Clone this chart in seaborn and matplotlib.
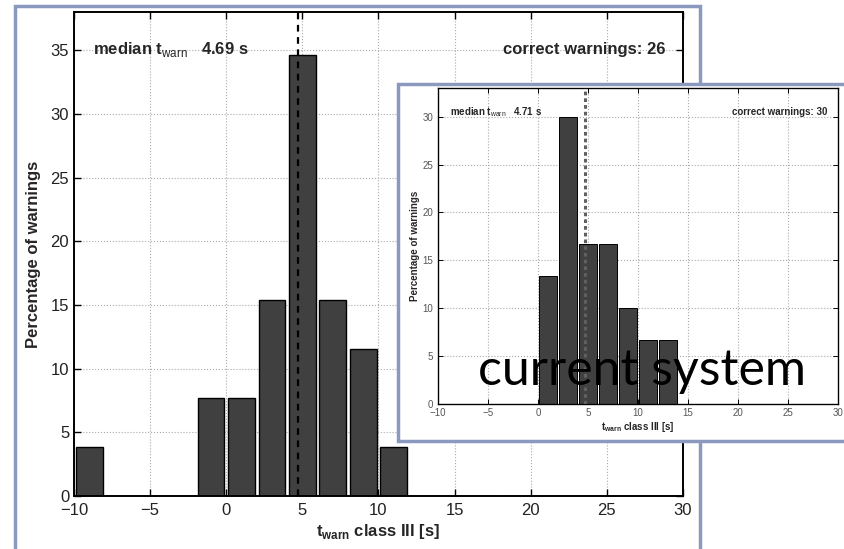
import matplotlib
matplotlib.use("Agg")
import matplotlib.pyplot as plt
import pandas as pd
import seaborn as sns
from matplotlib.patches import Rectangle

# histogram bins: 2 s wide from -10 s to 30 s; percentage per bin
bin_width = 2
bin_range = (-10, 30)

main_centers = [-9, -1, 1, 3, 5, 7, 9, 11]
main_percent = [3.85, 7.69, 7.69, 15.38, 34.62, 15.38, 11.54, 3.85]
main_median = 4.69
main_count = 26

inset_centers = [1, 3, 5, 7, 9, 11, 13]
inset_percent = [13.33, 30.0, 16.67, 16.67, 10.0, 6.67, 6.67]
inset_median = 4.71
inset_count = 30

x_ticks = [-10, -5, 0, 5, 10, 15, 20, 25, 30]
y_ticks_main = [0, 5, 10, 15, 20, 25, 30, 35]
y_ticks_inset = [0, 5, 10, 15, 20, 25, 30]

sns.set_style("ticks")
plt.rcParams["font.family"] = ["Liberation Sans", "DejaVu Sans"]
plt.rcParams["mathtext.fontset"] = "custom"
plt.rcParams["mathtext.rm"] = "Liberation Sans"
plt.rcParams["mathtext.bf"] = "Liberation Sans:bold"

BAR = "#404040"
FRAME = "#8a99bd"


def draw_panel(ax, centers, percent, median, count, ymax, yticks, fs, lw, big):
    df = pd.DataFrame({"t": centers, "pct": percent})
    sns.histplot(data=df, x="t", weights="pct", binwidth=bin_width, binrange=bin_range,
                 shrink=0.88, color=BAR, edgecolor="black", linewidth=lw, alpha=1.0, ax=ax)
    if big:
        ax.axvline(median, color="black", linestyle=(0, (3, 2.5)), linewidth=1.6, zorder=3)
    else:
        ax.axvline(median, color="#606060", linestyle=(0, (1.2, 1.0)), linewidth=2.2, zorder=3)
    ax.set_xlim(-10, 30)
    ax.set_ylim(0, ymax)
    ax.set_xticks(x_ticks)
    ax.set_yticks(yticks)
    ax.set_axisbelow(True)
    ax.grid(True, linestyle=":", color="#aaaaaa", linewidth=0.8)
    ax.tick_params(direction="in", top=True, right=True, labelsize=fs,
                   length=5 * lw, width=lw, colors="black",
                   labelcolor="#222222" if big else "#555555")
    ax.tick_params(axis="x", pad=5 if big else 3)
    for sp in ax.spines.values():
        sp.set_linewidth(1.4 * lw)
        sp.set_color("black")
    ax.set_xlabel(r"t$_{\bf warn}$ class III [s]", fontsize=fs, fontweight="bold",
                  labelpad=3 if big else 1)
    ax.set_ylabel("Percentage of warnings", fontsize=fs, fontweight="bold",
                  labelpad=7 if big else 2)
    ax.text(0.031, 0.923, r"median t$_{\rm warn}$   %.2f s" % median,
            transform=ax.transAxes, fontsize=fs, fontweight="bold", va="center")
    ax.text(0.972, 0.923, "correct warnings: %d" % count, transform=ax.transAxes,
            fontsize=fs, fontweight="bold", va="center", ha="right")


fig = plt.figure(figsize=(8.44, 5.49), dpi=100)

# frame around the main figure
fig.patches.append(Rectangle((0.0178, -0.02), 0.8115, 1.009, transform=fig.transFigure,
                             facecolor="white", edgecolor=FRAME, linewidth=2.5, zorder=0))

ax_main = fig.add_axes([0.0877, 0.0965, 0.7215, 0.8816], zorder=1)
draw_panel(ax_main, main_centers, main_percent, main_median, main_count,
           38, y_ticks_main, 12, 1.0, True)

# frame around the inset
fig.patches.append(Rectangle((0.4716, 0.197), 0.62, 0.650, transform=fig.transFigure,
                             facecolor="white", edgecolor=FRAME, linewidth=2.5, zorder=2))

ax_in = fig.add_axes([0.519, 0.2641, 0.474, 0.5756], zorder=3)
draw_panel(ax_in, inset_centers, inset_percent, inset_median, inset_count,
           33, y_ticks_inset, 7, 0.7, False)

fig.text(0.566, 0.2987, "current system", fontsize=36, family=["Lato", "DejaVu Sans"],
         color="black", zorder=5)

fig.savefig("out.png", dpi=100)
